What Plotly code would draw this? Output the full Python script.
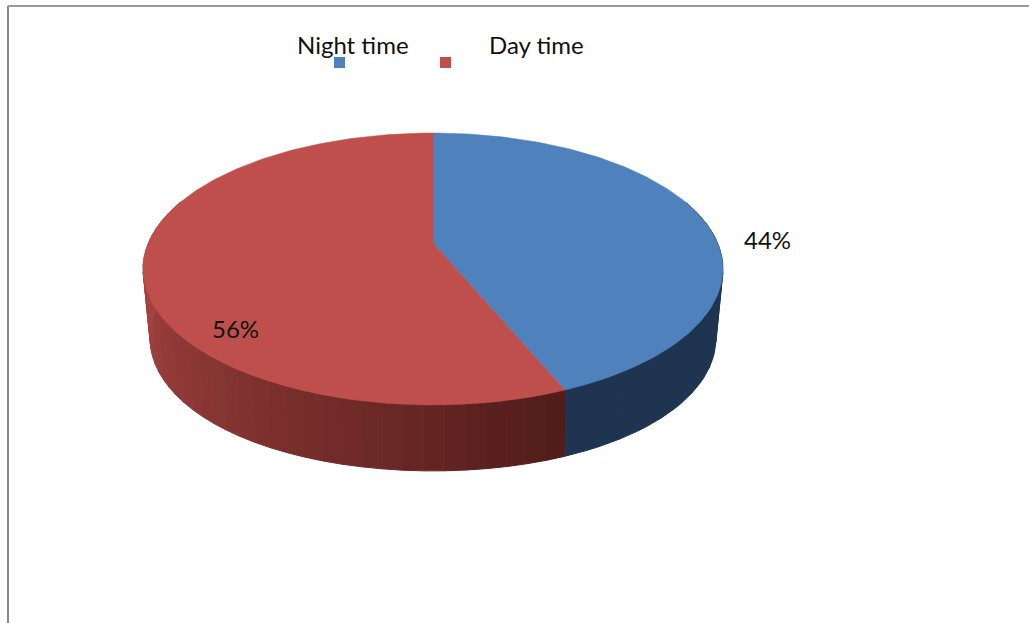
import numpy as np
import plotly.graph_objects as go

categories = ["Night time", "Day time"]
values = [44, 56]
top_colors = ["#4f81bd", "#bf4f4c"]
wall_ramps = [["#1f3552", "#1e3450"], ["#ad4745", "#a14240", "#8a3735", "#6f2a27", "#501c1a"]]

W, H = 1029, 623
APEX_X, APEX_Y = 433, 243
A, a, c = 284.6, 131.0, 0.191
DEPTH = 66
FLOOR_INSET = 7
WARP = 1.2


def project(theta_deg):
    t = np.radians(theta_deg + WARP * np.sin(np.radians(2 * theta_deg)))
    u, v = np.sin(t), np.cos(t)
    d = 1 + c * v
    return APEX_X + A * u / d, APEX_Y - a * v / d


def floor(x, y):
    front = APEX_Y + a / (1 - c)
    rel = (x - APEX_X) / 290
    return x - FLOOR_INSET * np.sign(rel) * np.abs(rel) ** 3, front + DEPTH + (y - front) * 0.975


def mix(ramp, f):
    rgb = [[int(h[i:i + 2], 16) for i in (1, 3, 5)] for h in ramp]
    p = f * (len(rgb) - 1)
    i = min(int(p), len(rgb) - 2)
    w = p - i
    return "rgb(%d,%d,%d)" % tuple(rgb[i][k] * (1 - w) + rgb[i + 1][k] * w for k in range(3))


fig = go.Figure()
shares = np.cumsum([0] + values) / sum(values) * 360

# side walls (only the part facing the viewer)
for idx, cat in enumerate(categories):
    lo, hi = max(shares[idx], 70), min(shares[idx + 1], 290)
    n = 40 if idx == 1 else 8
    edges = np.linspace(lo, hi, n + 1)
    for j in range(n):
        th = np.linspace(edges[j], edges[j + 1], 6)
        x, y = project(th)
        fx, fy = floor(x, y)
        px = list(x) + list(fx[::-1]) + [x[0]]
        py = list(y) + list(fy[::-1]) + [y[0]]
        f = (j + .5) / n
        col = mix(wall_ramps[idx], 1 - f if idx == 1 else f)
        fig.add_trace(go.Scatter(x=px, y=py, mode="lines", fill="toself", fillcolor=col,
                                 line=dict(color=col, width=1), hoverinfo="skip", showlegend=False))

# top face
for idx, cat in enumerate(categories):
    th = np.linspace(shares[idx], shares[idx + 1], 180)
    x, y = project(th)
    fig.add_trace(go.Scatter(x=[APEX_X] + list(x) + [APEX_X], y=[APEX_Y] + list(y) + [APEX_Y],
                             mode="lines", fill="toself", fillcolor=top_colors[idx],
                             line=dict(color=top_colors[idx], width=0.5), name=cat,
                             hoverinfo="name", showlegend=False))

# legend keys
fig.add_trace(go.Scatter(x=[339.5, 445.5], y=[62.5, 62.5], mode="markers",
                         marker=dict(symbol="square", size=11, color=top_colors, line=dict(width=0)),
                         hoverinfo="skip", showlegend=False))

FONT = dict(family="Lato, Carlito, sans-serif", size=24, color="#111111")
annos = [(353, 44, categories[0]), (536.5, 44, categories[1]),
         (767, 239, f"{values[0]}%"), (235, 328, f"{values[1]}%")]
for x, y, t in annos:
    fig.add_annotation(x=x, y=y, text=t, showarrow=False, font=FONT, xanchor="center", yanchor="middle")

fig.add_shape(type="line", x0=8, x1=8, y0=6, y1=H, line=dict(color="#888888", width=2))
fig.add_shape(type="line", x0=8, x1=W, y0=6, y1=6, line=dict(color="#999999", width=2))

fig.update_layout(width=W, height=H, margin=dict(l=0, r=0, t=0, b=0),
                  paper_bgcolor="white", plot_bgcolor="white",
                  xaxis=dict(range=[0, W], visible=False, fixedrange=True),
                  yaxis=dict(range=[H, 0], visible=False, fixedrange=True))
fig.write_html("out.html", config=dict(displayModeBar=False),
               post_script="document.body.style.margin='0';document.body.style.overflow='hidden';")
